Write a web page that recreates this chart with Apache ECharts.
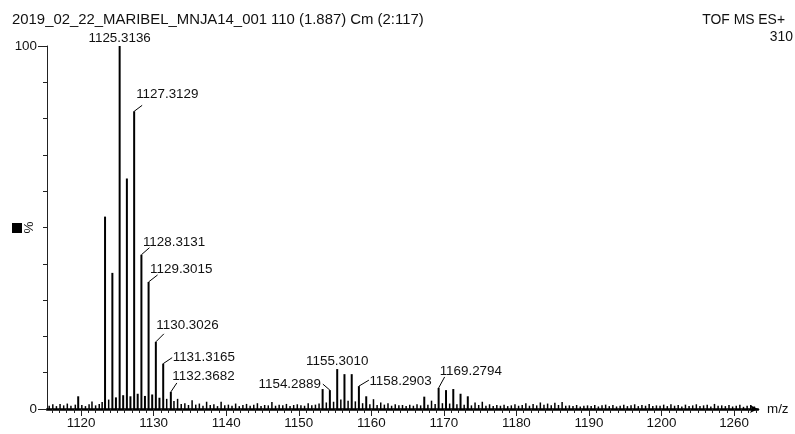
<!DOCTYPE html>
<html>
<head>
<meta charset="utf-8">
<script src="https://cdn.jsdelivr.net/npm/echarts@6/dist/echarts.min.js"></script>
<style>
  html, body { margin: 0; padding: 0; background: #fff; }
  #chart { width: 795px; height: 434px; }
</style>
</head>
<body>
<div id="chart"></div>
<script>
// Spectrum header
const titleText = '2019_02_22_MARIBEL_MNJA14_001 110 (1.887) Cm (2:117)';
const modeText = 'TOF MS ES+';
const scaleText = '310';

// Axis ticks (m/z) and their printed labels
const tickValues = [1120, 1130, 1140, 1150, 1160, 1170, 1180, 1190, 1200, 1210];
const tickLabels = ['1120', '1130', '1140', '1150', '1160', '1170', '1180', '1190', '1200', '1260'];

// Annotated peaks: m/z and relative intensity (%)
const labelledMz  = [1125.3136, 1127.3129, 1128.3131, 1129.3015, 1130.3026, 1131.3165, 1132.3682, 1154.2889, 1155.3010, 1158.2903, 1169.2794];
const labelledPct = [100, 82, 42.5, 35, 18.5, 12.5, 4.7, 5.2, 11, 6.3, 5.8];

// Other isotope peaks without annotation
const otherMz  = [1123.30, 1124.31, 1126.31, 1153.29, 1156.30, 1157.30, 1159.30, 1160.30, 1161.30, 1167.30, 1168.30, 1170.30, 1171.30, 1172.30, 1173.30, 1174.30, 1175.30];
const otherPct = [53, 37.5, 63.5, 5.5, 9.6, 9.6, 3.5, 2.7, 1.8, 3.4, 2.3, 5.2, 5.5, 4.2, 3.5, 1.8, 2.0];

// Low-level baseline signal [m/z, %]
const baselinePeaks = [
  [1115.6,0.9],[1116.1,1.3],[1116.6,0.8],[1117.1,1.4],[1117.6,1.0],[1118.1,1.5],[1118.6,0.9],[1119.2,1.2],
  [1119.6,3.5],[1120.1,1.1],[1120.6,0.8],[1121.1,1.3],[1121.5,2.1],[1122.0,1.0],[1122.5,1.4],[1122.9,1.9],
  [1123.8,2.6],[1124.8,3.2],[1125.8,3.8],[1126.8,3.5],[1127.8,4.2],[1128.8,3.6],[1129.8,4.0],[1130.8,3.1],
  [1131.8,2.8],[1132.8,2.2],[1133.3,2.8],[1133.8,1.4],[1134.3,1.6],[1134.8,1.1],[1135.3,2.4],[1135.8,1.2],
  [1136.3,1.5],[1136.8,0.9],[1137.3,2.0],[1137.8,1.1],[1138.3,1.3],[1138.8,0.8],[1139.3,2.0],[1139.8,1.0],
  [1140.3,1.2],[1140.8,0.9],[1141.3,1.5],[1141.8,0.8],[1142.3,1.1],[1142.8,1.4],[1143.3,0.9],[1143.8,1.2],
  [1144.3,1.6],[1144.8,0.8],[1145.3,1.1],[1145.8,1.0],[1146.3,1.9],[1146.8,0.9],[1147.3,1.2],[1147.8,1.0],
  [1148.3,1.4],[1148.8,0.8],[1149.3,1.1],[1149.8,1.3],[1150.3,1.0],[1150.8,0.9],[1151.3,1.6],[1151.8,1.0],
  [1152.3,1.2],[1152.8,1.5],[1153.8,1.8],[1154.8,2.0],[1155.8,2.6],[1156.8,2.3],[1157.8,2.1],[1158.8,1.6],
  [1159.8,1.3],[1160.8,1.1],[1161.8,1.2],[1162.3,1.6],[1162.8,0.9],[1163.3,1.3],[1163.8,1.0],[1164.3,1.1],
  [1164.8,0.8],[1165.3,1.2],[1165.8,0.9],[1166.3,1.3],[1166.8,1.0],[1167.8,1.2],[1168.8,1.4],[1169.8,1.6],
  [1170.8,1.5],[1171.8,1.3],[1172.8,1.2],[1173.8,1.0],[1174.8,1.1],[1175.8,0.9],[1176.3,1.3],[1176.8,0.8],
  [1177.3,1.1],[1177.8,0.9],[1178.3,1.2],[1178.8,0.8],[1179.3,1.0],[1179.8,1.3],[1180.3,0.9],[1180.8,1.1],
  [1181.3,1.6],[1181.8,0.9],[1182.3,1.4],[1182.8,1.0],[1183.3,1.8],[1183.8,1.2],[1184.3,1.5],[1184.8,1.0],
  [1185.3,1.7],[1185.8,1.1],[1186.3,1.9],[1186.8,0.9],[1187.3,1.0],[1187.8,0.8],[1188.3,1.1],[1188.8,0.7],
  [1189.3,0.9],[1189.8,1.0],[1190.3,0.8],[1190.8,1.1],[1191.3,0.7],[1191.8,1.0],[1192.3,1.2],[1192.8,0.8],
  [1193.3,1.1],[1193.8,0.7],[1194.3,0.9],[1194.8,1.2],[1195.3,0.8],[1195.8,1.0],[1196.3,1.3],[1196.8,0.8],
  [1197.3,1.1],[1197.8,0.9],[1198.3,1.4],[1198.8,0.8],[1199.3,1.0],[1199.8,0.9],[1200.3,1.2],[1200.8,0.8],
  [1201.3,1.3],[1201.8,0.9],[1202.3,1.1],[1202.8,0.7],[1203.3,1.2],[1203.8,0.8],[1204.3,1.0],[1204.8,1.3],
  [1205.3,0.8],[1205.8,1.0],[1206.3,1.2],[1206.8,0.7],[1207.3,1.4],[1207.8,0.9],[1208.3,1.0],[1208.8,0.8],
  [1209.3,1.1],[1209.8,0.7],[1210.3,0.9],[1210.8,1.2],[1211.3,0.6],[1211.8,0.9],[1212.3,1.1],[1212.8,0.7]
];

// Where each annotation sits relative to its peak top (px):
// leader end (lx, ly), text anchor (dx, dy) and alignment
const labelPlacement = [
  { dx: 0,    dy: -8,  align: 'center' },
  { lx: 8,  ly: -6, dx: 2,    dy: -17, align: 'left' },
  { lx: 8,  ly: -7, dx: 1.5,  dy: -12, align: 'left' },
  { lx: 9,  ly: -7, dx: 1.5,  dy: -13, align: 'left' },
  { lx: 8,  ly: -8, dx: 0.5,  dy: -17, align: 'left' },
  { lx: 9,  ly: -6, dx: 9.5,  dy: -6,  align: 'left' },
  { lx: 6,  ly: -9, dx: 1.5,  dy: -16, align: 'left' },
  { lx: -7, ly: -6, dx: -9,   dy: -6,  align: 'right' },
  { dx: 0,    dy: -8,  align: 'center' },
  { lx: 10, ly: -6, dx: 10.5, dy: -5,  align: 'left' },
  { lx: 6,  ly: -11, dx: 1,   dy: -17, align: 'left' }
];

const FONT = '"Liberation Sans", Arial, sans-serif';
const FS = 13.4;
const INK = '#111';

const X_MIN = 1115.3, X_MAX = 1213.3;
const minorTicks = [];
for (let v = Math.ceil(X_MIN); v <= X_MAX; v++) minorTicks.push(v);

const stickData = baselinePeaks
  .concat(otherMz.map((m, i) => [m, otherPct[i]]))
  .concat(labelledMz.map((m, i) => [m, labelledPct[i]]));

function renderStick(params, api) {
  const x = api.value(0), y = api.value(1);
  const top = api.coord([x, y]);
  const base = api.coord([x, 0]);
  return {
    type: 'line',
    shape: { x1: top[0], y1: top[1], x2: base[0], y2: base[1] },
    style: { stroke: '#000', lineWidth: y > 3 ? 2 : 1.5 }
  };
}

function renderAnnotation(params, api) {
  const i = params.dataIndex;
  const mz = api.value(0), pct = api.value(1);
  const p = api.coord([mz, pct]);
  const s = labelPlacement[i];
  const children = [];
  if (s.lx !== undefined) {
    children.push({
      type: 'polyline',
      shape: { points: [[p[0], p[1]], [p[0] + s.lx, p[1] + s.ly]] },
      style: { stroke: '#000', lineWidth: 1, fill: null }
    });
  }
  children.push({
    type: 'text',
    x: p[0] + s.dx,
    y: p[1] + s.dy,
    style: {
      text: labelledMz[i].toFixed(4),
      font: FS + 'px ' + FONT,
      fill: INK,
      align: s.align,
      verticalAlign: 'middle'
    }
  });
  return { type: 'group', children: children };
}

const chart = echarts.init(document.getElementById('chart'), null, { renderer: 'canvas' });

chart.setOption({
  animation: false,
  backgroundColor: '#fff',
  grid: { left: 47, right: 37, top: 46, bottom: 25, containLabel: false, outerBoundsMode: 'none' },
  xAxis: [
    {
      type: 'value', min: X_MIN, max: X_MAX,
      name: 'm/z', nameLocation: 'end', nameGap: 9, nameMoveOverlap: false,
      nameTextStyle: { fontFamily: FONT, fontSize: FS, color: INK, verticalAlign: 'middle', padding: [0, 0, 10, 0] },
      axisLine: { show: true, lineStyle: { color: '#000', width: 2.5 }, symbol: ['none', 'arrow'], symbolSize: [6, 8] },
      axisTick: { show: true, customValues: tickValues, length: 7, lineStyle: { color: '#222', width: 1 } },
      axisLabel: {
        show: true, customValues: tickValues, margin: 8,
        fontFamily: FONT, fontSize: FS, color: INK,
        formatter: v => { const k = tickValues.indexOf(Math.round(v)); return k >= 0 ? tickLabels[k] : ''; }
      },
      splitLine: { show: false }
    },
    {
      type: 'value', min: X_MIN, max: X_MAX, position: 'bottom',
      axisLine: { show: false },
      axisTick: { show: true, customValues: minorTicks, length: 4, lineStyle: { color: '#222', width: 1 } },
      axisLabel: { show: false },
      splitLine: { show: false }
    }
  ],
  yAxis: [
    {
      type: 'value', min: 0, max: 100, interval: 100, position: 'left',
      name: '%', nameLocation: 'middle', nameGap: 11, nameRotate: 90, nameMoveOverlap: false,
      nameTextStyle: { fontFamily: FONT, fontSize: FS, color: INK },
      axisLine: { show: true, lineStyle: { color: '#222', width: 1 } },
      axisTick: { show: true, length: 9, lineStyle: { color: '#222', width: 1 } },
      axisLabel: { show: true, margin: 10, fontFamily: FONT, fontSize: FS, color: INK },
      splitLine: { show: false }
    },
    {
      type: 'value', min: 0, max: 100, interval: 10, position: 'left',
      axisLine: { show: false },
      axisTick: { show: true, length: 4, lineStyle: { color: '#222', width: 1 } },
      axisLabel: { show: false },
      splitLine: { show: false }
    }
  ],
  graphic: [
    { type: 'text', left: 12, top: 12, style: { text: titleText, font: '14.9px ' + FONT, fill: INK } },
    { type: 'text', right: 10, top: 13, style: { text: modeText, font: '13.9px ' + FONT, fill: INK } },
    { type: 'text', right: 2, top: 30, style: { text: scaleText, font: '13.9px ' + FONT, fill: INK } },
    { type: 'rect', left: 12, top: 223, shape: { width: 10, height: 10 }, style: { fill: '#000' } }
  ],
  series: [
    {
      type: 'custom', name: 'spectrum', xAxisIndex: 0, yAxisIndex: 0,
      renderItem: renderStick, data: stickData, clip: false, silent: true
    },
    {
      type: 'custom', name: 'annotations', xAxisIndex: 0, yAxisIndex: 0,
      renderItem: renderAnnotation,
      data: labelledMz.map((m, i) => [m, labelledPct[i]]),
      clip: false, silent: true, z: 5
    }
  ]
});
</script>
</body>
</html>
